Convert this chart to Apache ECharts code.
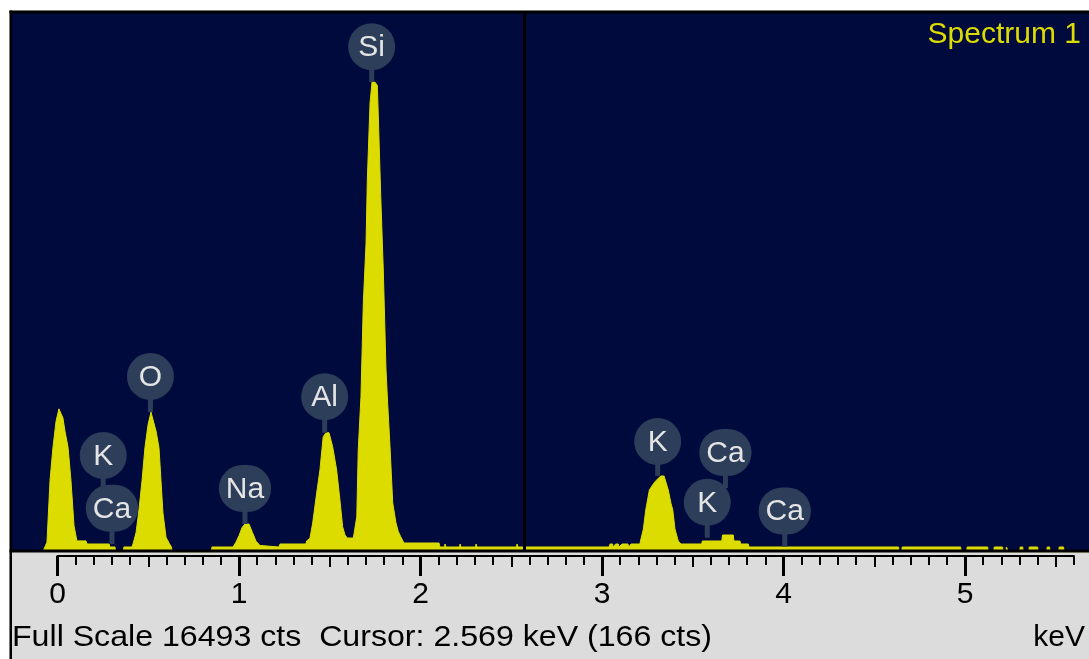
<!DOCTYPE html>
<html><head><meta charset="utf-8">
<script src="https://cdn.jsdelivr.net/npm/echarts@6/dist/echarts.min.js"></script>
<style>html,body{margin:0;padding:0;background:#fff}#c{width:1089px;height:659px}</style>
</head><body><div id="c"></div>
<script>
// ---- data ----
const spectrumKeV = [
 -0.080,-0.074,-0.058,-0.041,-0.025,-0.008,0.008,0.019,0.030,0.041,0.058,0.074,0.091,0.107,0.157,0.163,0.284,0.289,0.317,0.320,
 0.362,0.366,0.410,0.416,0.433,0.449,0.466,0.482,0.499,0.515,0.526,0.543,0.559,0.570,0.581,0.598,0.617,0.628,0.632,
 0.847,0.851,0.967,0.983,1.000,1.017,1.033,1.055,1.074,1.094,1.116,1.127,1.220,1.226,1.369,1.372,
 1.391,1.406,1.428,1.446,1.464,1.479,1.496,1.516,1.538,1.556,1.571,1.584,1.597,1.630,
 1.635,1.649,1.657,1.672,1.685,1.700,1.707,1.722,1.733,1.748,1.762,1.767,1.781,1.795,1.810,1.819,1.832,1.847,1.865,1.878,1.891,1.909,
 2.102,2.107,2.132,2.135,2.140,2.215,2.218,2.223,2.303,2.306,2.311,2.529,2.532,2.537,
 3.040,3.044,3.058,3.062,3.075,3.090,3.094,3.110,3.143,3.147,3.157,3.160,3.209,3.212,
 3.228,3.241,3.261,3.279,3.292,3.310,3.325,3.342,3.347,3.365,3.380,3.390,3.402,3.420,3.435,
 3.549,3.553,3.660,3.664,3.723,3.727,3.760,3.764,3.806,3.810,
 4.634,4.637,4.651,4.654,4.976,4.979,5.009,5.012,5.125,5.128,5.158,5.161,5.207,5.210,5.225,5.228,5.237,5.240,
 5.301,5.304,5.318,5.321,5.351,5.354,5.400,5.403,5.450,5.453,5.466,5.469,5.516,5.519,5.543,5.546,5.683
];
const spectrumCounts = [
 0,100,300,2200,3200,4000,4380,4380,4100,3700,3210,2200,800,340,340,245,245,153,153,0,
 0,153,153,245,600,1300,2200,3200,3900,4280,4250,3700,3200,2200,1200,450,250,153,0,
 0,153,153,300,500,750,857,857,600,330,200,153,153,245,245,337,
 420,887,1805,2509,3528,3650,3650,3222,2509,1591,774,520,428,428,
 600,1080,3121,4752,7619,9455,11383,13739,14382,14382,14281,13433,10872,8629,5569,4559,3222,1499,887,621,468,275,
 275,153,153,245,153,153,245,153,153,245,153,153,245,153,
 153,245,245,153,245,245,153,245,245,153,153,245,245,337,
 704,1285,1897,2050,2151,2255,2326,2326,2234,1897,1490,1285,704,337,245,
 245,337,337,520,520,337,337,245,245,153,
 153,0,0,153,153,0,0,153,153,0,0,153,153,0,0,153,153,0,
 0,153,153,0,0,153,153,0,0,153,153,0,0,153,153,0,0
];
const peakNames = ['K','Ca','O','Na','Al','Si','K','Ca','K','Ca'];
const peakKeV = [0.252,0.300,0.512,1.033,1.472,1.731,3.307,3.680,3.580,4.007];
const peakLabelCounts = [2953,1337,5370,1943,4752,15462,3381,3045,1521,1255];
const peakStemEndCounts = [1989,245,4284,857,3650,14382,2326,1958,438,162];
const majorTicks = [0,1,2,3,4,5];
const halfTicks = [0.5,1.5,2.5,3.5,4.5,5.5];
const spectrumName = 'Spectrum 1';
const fullScaleCts = 16493;
const cursorKeV = 2.569;
const cursorCts = 166;
const unitLabel = 'keV';

// ---- styles ----
const FONT = '30px "Liberation Sans", Arial, sans-serif';
const BADGE = '#2c3e5a';
const YELLOW = '#dcdc00';
const NAVY = '#000a3c';

const mctx = document.createElement('canvas').getContext('2d');
mctx.font = FONT;

const chart = echarts.init(document.getElementById('c'), null, {renderer:'canvas'});

function renderPeakLabel(params, api) {
  const i = params.dataIndex;
  const c = api.coord([api.value(0), api.value(1)]);
  const b = api.coord([api.value(0), api.value(2)]);
  const name = peakNames[i];
  const tw = mctx.measureText(name).width;
  const h = 47, w = Math.max(47, tw + 14);
  return {type:'group', children:[
    {type:'rect', shape:{x:c[0]-2.5, y:c[1], width:5, height:Math.max(0,b[1]-c[1])}, style:{fill:BADGE}},
    {type:'rect', shape:{x:c[0]-w/2, y:c[1]-h/2, width:w, height:h, r:h/2}, style:{fill:BADGE}},
    {type:'text', x:c[0], y:c[1]+1, style:{text:name, fill:'#e4e4e4', font:FONT,
      align:'center', verticalAlign:'middle', textAlign:'center', textVerticalAlign:'middle'}}
  ]};
}

function txt(text, x, y, align, color, sx) {
  return {type:'text', x:x, y:y, z:100, silent:true, scaleX:sx||1,
    style:{text:text, font:FONT, fill:color||'#000', align:align||'left', verticalAlign:'middle',
      textAlign:align||'left', textVerticalAlign:'middle'}};
}

const footerText = 'Full Scale ' + fullScaleCts + ' cts  Cursor: ' + cursorKeV.toFixed(3) +
  ' keV (' + cursorCts + ' cts)';
const footerScale = 700 / mctx.measureText(footerText).width;

const option = {
  animation:false,
  backgroundColor:'#dcdcdc',
  grid:[
    {left:12, top:13, width:1077, height:539, show:true, backgroundColor:NAVY, borderWidth:0},
    {left:57.5, top:555, width:5.6*181.5, height:1, show:false}
  ],
  xAxis:[
    {gridIndex:0, type:'value', min:(12-57.5)/181.5, max:(1089-57.5)/181.5, show:false},
    {gridIndex:1, type:'value', min:0, max:5.6, interval:0.1, position:'bottom',
      axisLine:{show:true, lineStyle:{color:'#000', width:2}},
      axisTick:{show:true, length:9, lineStyle:{color:'#000', width:2}},
      axisLabel:{show:false}, splitLine:{show:false}},
    {gridIndex:1, type:'value', min:0, max:5.6, position:'bottom',
      axisLine:{show:false},
      axisTick:{show:true, length:11, customValues:halfTicks, lineStyle:{color:'#000', width:2}},
      axisLabel:{show:false}, splitLine:{show:false}},
    {gridIndex:1, type:'value', min:0, max:5.6, position:'bottom',
      axisLine:{show:false},
      axisTick:{show:true, length:20, customValues:majorTicks, lineStyle:{color:'#000', width:3}},
      axisLabel:{show:true, customValues:majorTicks, margin:24, color:'#000',
        fontSize:30, fontFamily:'"Liberation Sans", Arial, sans-serif'},
      splitLine:{show:false}}
  ],
  yAxis:[
    {gridIndex:0, type:'value', min:0, max:fullScaleCts, show:false},
    {gridIndex:1, type:'value', min:0, max:1, show:false}
  ],
  series:[
    {type:'line', xAxisIndex:0, yAxisIndex:0, z:2,
      data: spectrumKeV.map((k,i)=>[k, spectrumCounts[i]]),
      showSymbol:false, symbol:'none', smooth:false,
      lineStyle:{color:YELLOW, width:1}, areaStyle:{color:YELLOW, opacity:1},
      markLine:{silent:true, symbol:'none', label:{show:false},
        lineStyle:{color:'#000', width:3, type:'solid'},
        data:[{xAxis:cursorKeV}]}},
    {type:'custom', xAxisIndex:0, yAxisIndex:0, z:5, clip:false,
      data: peakKeV.map((k,i)=>[k, peakLabelCounts[i], peakStemEndCounts[i]]),
      renderItem: renderPeakLabel}
  ],
  graphic:[
    {type:'rect', z:100, silent:true, shape:{x:0,y:0,width:1089,height:10.5}, style:{fill:'#fff'}},
    {type:'rect', z:100, silent:true, shape:{x:0,y:0,width:9.5,height:659}, style:{fill:'#fff'}},
    {type:'rect', z:100, silent:true, shape:{x:9.5,y:10.5,width:1080,height:3}, style:{fill:'#000'}},
    {type:'rect', z:100, silent:true, shape:{x:9.5,y:10.5,width:2.5,height:649}, style:{fill:'#000'}},
    {type:'rect', z:100, silent:true, shape:{x:9.5,y:549.5,width:1080,height:3}, style:{fill:'#000'}},
    txt(spectrumName, 1081, 35, 'right', YELLOW),
    txt(footerText, 12, 638, 'left', '#000', footerScale),
    txt(unitLabel, 1085, 638, 'right')
  ]
};
chart.setOption(option);
</script></body></html>
